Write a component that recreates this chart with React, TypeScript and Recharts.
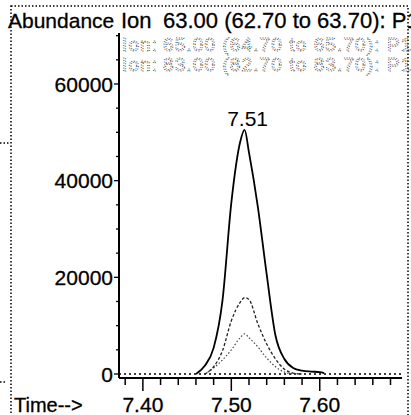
import { LineChart, Line, XAxis, YAxis, ReferenceLine, ReferenceDot } from "recharts";

// retention time (min)
const times = [7.46, 7.47, 7.48, 7.49, 7.5, 7.51, 7.515, 7.52, 7.53, 7.54, 7.55, 7.56, 7.57, 7.58, 7.59, 7.6, 7.605];
// abundance per ion trace
const ion63 = [0, 1700, 5400, 15200, 35400, 48000, 50500, 45800, 34600, 20600, 7900, 3100, 1250, 700, 500, 400, 200];
const ion65 = [null, 0, 1500, 4800, 11000, 14800, 15800, 15400, 10400, 6200, 3100, 1000, 200, 0, null, null, null];
const ion83 = [null, 0, 1250, 2900, 5000, 7500, 8300, 7500, 5600, 3300, 1500, 400, 0, null, null, null, null];

const xTicks = [7.38, 7.4, 7.42, 7.44, 7.46, 7.48, 7.5, 7.52, 7.54, 7.56, 7.58, 7.6, 7.62, 7.64, 7.66, 7.68];
const xLabels = ["7.40", "7.50", "7.60"];
const yTicks = [0, 5000, 10000, 15000, 20000, 25000, 30000, 35000, 40000, 45000, 50000, 55000, 60000, 65000, 70000];
const yLabels = [0, 20000, 40000, 60000];

const peakTime = 7.515;
const peakValue = 50500;
const peakLabel = "7.51";

const titleLeft = "Abundance";
const titleIon = "Ion";
const titleRange = "63.00 (62.70 to 63.70): P1";
const legendIons = ["65.00 (64.70 to 65.70): P1", "83.00 (82.70 to 83.70): P1"];
const xTitle = "Time-->";

const FONT = "'Liberation Sans', Arial, sans-serif";

const data = times.map((t, i) => ({ t, a: ion63[i], b: ion65[i], c: ion83[i] }));

function XTick({ x, y, payload }: any) {
  const v = payload.value as number;
  const lbl = v.toFixed(2);
  const major = xLabels.includes(lbl);
  return (
    <g>
      <line x1={x} x2={x} y1={y} y2={y + (major ? 13 : 7)} stroke="#000" strokeWidth={1.5} />
      {major && (
        <text x={x} y={y + 34} textAnchor="middle" fontSize={21} fontFamily={FONT} fill="#000" stroke="#000" strokeWidth={0.3}>
          {lbl}
        </text>
      )}
    </g>
  );
}

function YTick({ x, y, payload }: any) {
  const v = payload.value as number;
  const major = yLabels.includes(v);
  return (
    <g>
      <line x1={x - (major ? 5 : 3)} x2={x} y1={y} y2={y} stroke="#000" strokeWidth={1.3} />
      {major && (
        <text x={x - 6} y={y} dy="0.36em" textAnchor="end" fontSize={21} fontFamily={FONT} fill="#000" stroke="#000" strokeWidth={0.3}>
          {v}
        </text>
      )}
    </g>
  );
}

export default function App() {
  return (
    <div style={{ position: "absolute", left: 0, top: 0, width: 411, height: 415, overflow: "hidden", background: "#fff" }}>
      <LineChart width={411} height={415} data={data} margin={{ top: 33, right: 9, bottom: 7, left: 59 }}>
        <XAxis
          dataKey="t"
          type="number"
          domain={[7.373, 7.693]}
          allowDataOverflow
          ticks={xTicks}
          interval={0}
          height={30}
          tickSize={0}
          tickMargin={0}
          tickLine={false}
          tick={<XTick />}
          axisLine={{ stroke: "#000", strokeWidth: 1.8 }}
        />
        <YAxis
          type="number"
          domain={[-830, 70550]}
          allowDataOverflow
          ticks={yTicks}
          interval={0}
          width={60}
          tickSize={0}
          tickMargin={0}
          tickLine={false}
          tick={<YTick />}
          axisLine={{ stroke: "#000", strokeWidth: 2 }}
        />
        <ReferenceLine y={0} stroke="#000" strokeWidth={1.3} strokeDasharray="2 3" />
        <Line dataKey="c" type="monotone" stroke="#444" strokeWidth={1.2} strokeDasharray="1.5 2" dot={false} connectNulls={false} isAnimationActive={false} />
        <Line dataKey="b" type="monotone" stroke="#222" strokeWidth={1.3} strokeDasharray="3 2" dot={false} connectNulls={false} isAnimationActive={false} />
        <Line dataKey="a" type="monotone" stroke="#000" strokeWidth={1.8} dot={false} connectNulls={false} isAnimationActive={false} />
        <ReferenceDot
          x={peakTime}
          y={peakValue}
          r={0}
          fill="none"
          stroke="none"
          label={{ value: peakLabel, position: "top", offset: 4, dx: 3, fill: "#000", fontSize: 21, fontFamily: FONT }}
        />
      </LineChart>
      <svg width={411} height={415} style={{ position: "absolute", left: 0, top: 0, pointerEvents: "none" }}>
        <rect x={11} y={6} width={397} height={440} fill="none" stroke="#000" strokeWidth={1.5} strokeDasharray="1.5 2" />
        <line x1={0} x2={10} y1={143} y2={143} stroke="#000" strokeWidth={1.5} strokeDasharray="1.5 2" />
        <line x1={0} x2={5} y1={382} y2={382} stroke="#000" strokeWidth={1.5} strokeDasharray="1.5 2" />
        <g fontFamily={FONT} fill="#000" stroke="#000" strokeWidth={0.3}>
          <text x={8} y={28} fontSize={21}>{titleLeft}</text>
          <text x={121} y={28} fontSize={22}>{titleIon}</text>
          <text x={163} y={28} fontSize={22}>{titleRange}</text>
          <text x={14} y={412} fontSize={20}>{xTitle}</text>
        </g>
        <g fontFamily={FONT} fontSize={19} fill="none" stroke="#444" strokeWidth={0.9} strokeDasharray="1 1.5" letterSpacing={1.1}>
          {legendIons.map((s, i) => (
            <g key={i}>
              <text x={122} y={51 + i * 20}>Ion:</text>
              <text x={163} y={51 + i * 20}>{s}</text>
            </g>
          ))}
        </g>
      </svg>
    </div>
  );
}
